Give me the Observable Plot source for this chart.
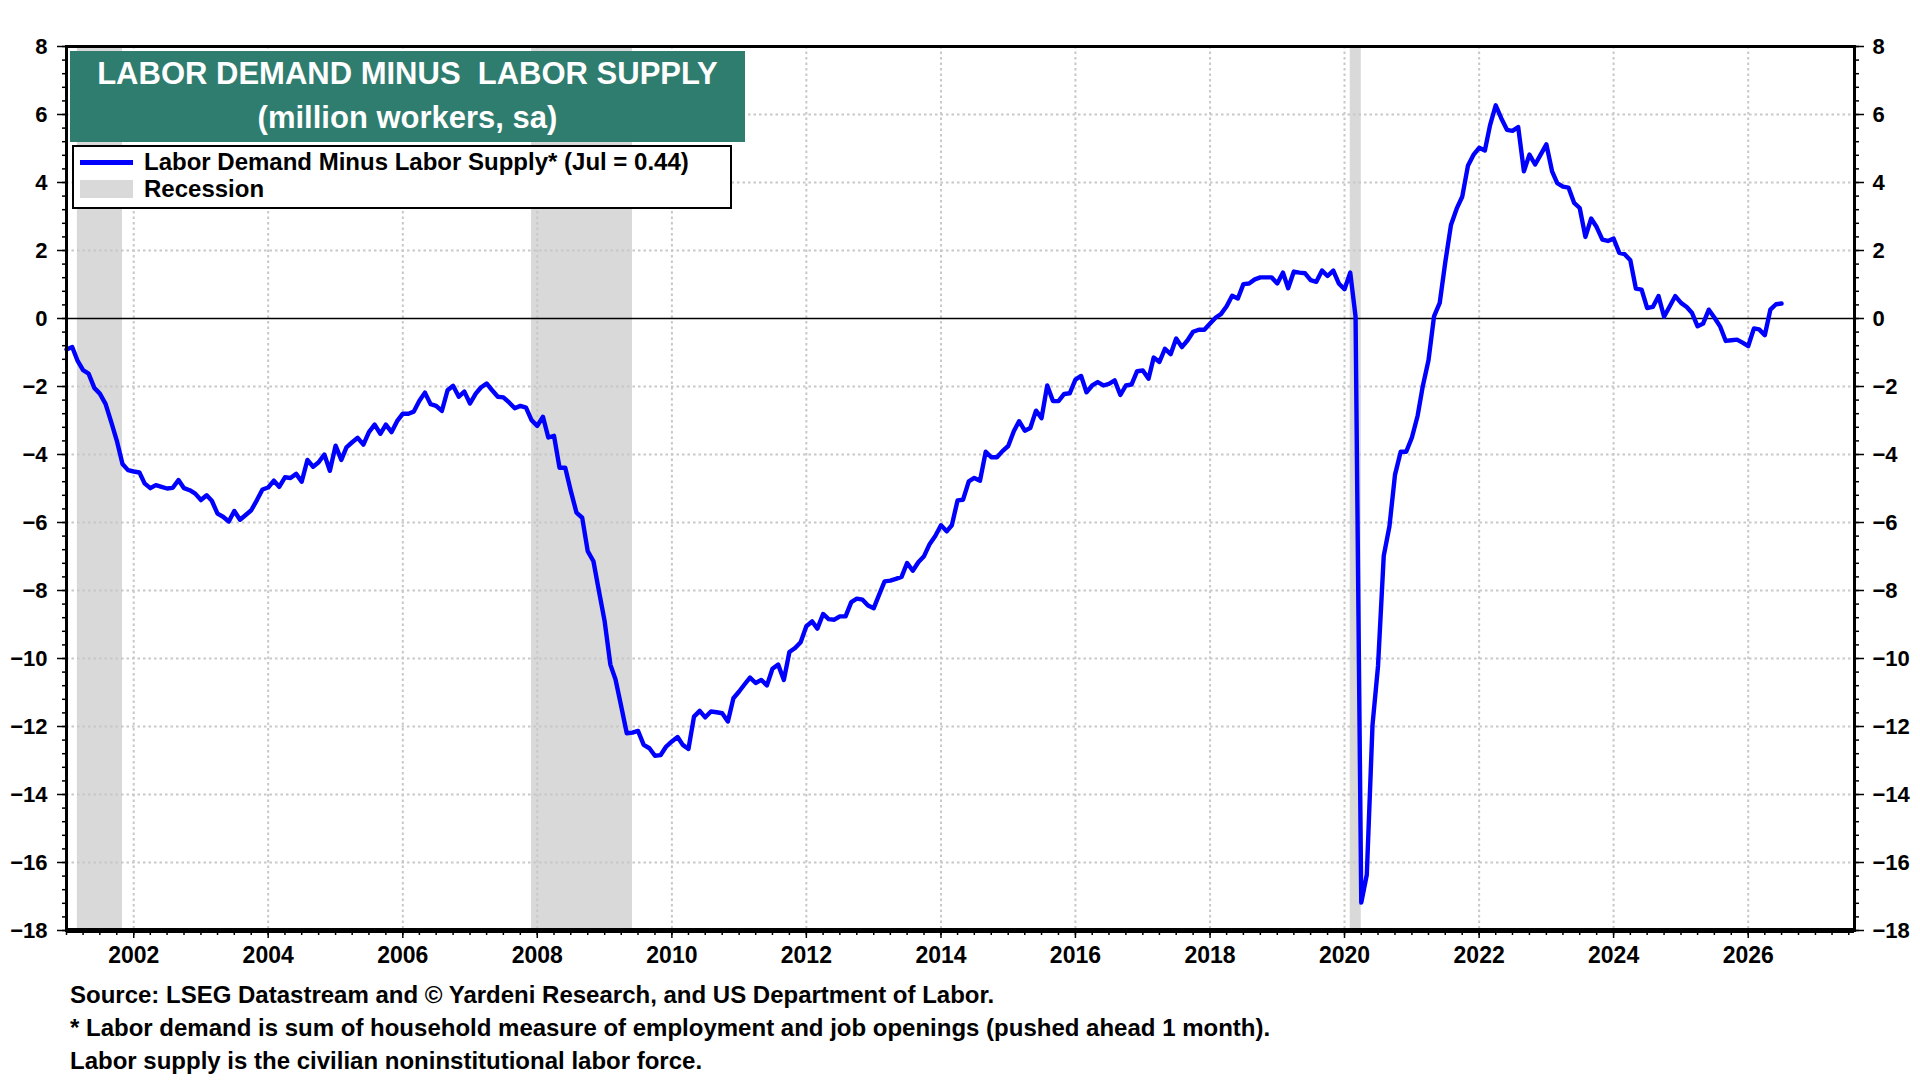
<!DOCTYPE html>
<html>
<head>
<meta charset="utf-8">
<script src="https://cdn.jsdelivr.net/npm/d3@7"></script>
<script src="https://cdn.jsdelivr.net/npm/@observablehq/plot@0.6"></script>
<style>
  body { margin: 0; background: #fff; }
  #wrap { position: relative; width: 1920px; height: 1080px; font-family: "Liberation Sans", Arial, sans-serif; font-weight: bold; }
  .abs { position: absolute; white-space: pre; }
</style>
</head>
<body>
<div id="wrap"></div>
<script>
// Monthly values starting Jan 2001 (million workers)
const startDate = "2001-01-01";
const values = [
  -0.91,-0.84,-1.23,-1.52,-1.62,-2.04,-2.21,-2.51,-3.05,-3.59,-4.28,-4.46,
  -4.50,-4.53,-4.85,-4.99,-4.90,-4.95,-5.00,-4.98,-4.75,-4.99,-5.05,-5.15,
  -5.34,-5.20,-5.36,-5.74,-5.83,-5.97,-5.66,-5.92,-5.78,-5.64,-5.34,-5.03,
  -4.97,-4.77,-4.95,-4.67,-4.69,-4.57,-4.80,-4.16,-4.36,-4.23,-4.00,-4.48,
  -3.74,-4.16,-3.79,-3.64,-3.51,-3.71,-3.34,-3.12,-3.39,-3.12,-3.34,-3.02,
  -2.80,-2.80,-2.74,-2.42,-2.18,-2.52,-2.57,-2.72,-2.11,-1.98,-2.30,-2.15,
  -2.50,-2.21,-2.03,-1.91,-2.11,-2.30,-2.32,-2.47,-2.64,-2.57,-2.62,-2.99,
  -3.16,-2.89,-3.50,-3.45,-4.39,-4.39,-5.07,-5.71,-5.86,-6.84,-7.14,-8.02,
  -8.91,-10.18,-10.62,-11.41,-12.20,-12.18,-12.13,-12.54,-12.64,-12.86,-12.84,-12.59,
  -12.44,-12.31,-12.54,-12.66,-11.71,-11.54,-11.73,-11.56,-11.58,-11.61,-11.85,-11.17,
  -10.97,-10.75,-10.56,-10.72,-10.63,-10.79,-10.30,-10.18,-10.63,-9.81,-9.69,-9.52,
  -9.05,-8.91,-9.12,-8.69,-8.84,-8.86,-8.76,-8.76,-8.34,-8.24,-8.27,-8.44,
  -8.52,-8.10,-7.73,-7.71,-7.66,-7.60,-7.19,-7.42,-7.16,-6.99,-6.63,-6.40,
  -6.08,-6.26,-6.08,-5.35,-5.33,-4.79,-4.69,-4.77,-3.92,-4.08,-4.08,-3.90,
  -3.75,-3.31,-3.02,-3.30,-3.22,-2.71,-2.93,-1.97,-2.43,-2.43,-2.22,-2.20,
  -1.80,-1.69,-2.17,-1.97,-1.87,-1.97,-1.92,-1.82,-2.25,-1.97,-1.94,-1.55,
  -1.53,-1.77,-1.15,-1.28,-0.89,-1.05,-0.59,-0.84,-0.64,-0.39,-0.33,-0.33,
  -0.15,0.03,0.13,0.36,0.67,0.59,1.01,1.03,1.15,1.21,1.21,1.21,
  1.03,1.35,0.89,1.38,1.35,1.33,1.13,1.08,1.41,1.25,1.41,1.03,
  0.86,1.35,0.06,-17.18,-16.36,-11.96,-10.22,-6.98,-6.11,-4.60,-3.92,-3.92,
  -3.50,-2.86,-1.99,-1.23,0.06,0.46,1.65,2.75,3.23,3.58,4.49,4.81,
  5.02,4.94,5.68,6.27,5.89,5.55,5.52,5.63,4.33,4.82,4.53,4.82,
  5.12,4.33,3.98,3.88,3.85,3.40,3.25,2.40,2.94,2.69,2.32,2.28,
  2.35,1.93,1.89,1.71,0.88,0.85,0.31,0.34,0.66,0.05,0.36,0.66,
  0.46,0.34,0.17,-0.23,-0.15,0.26,0.03,-0.23,-0.66,-0.64,-0.62,-0.71,
  -0.81,-0.29,-0.32,-0.49,0.26,0.42,0.44
];
const recessionStarts = ["2001-03-01", "2007-12-01", "2020-02-01"];
const recessionEnds   = ["2001-11-01", "2009-06-01", "2020-04-01"];
const xDomain = ["2001-01-01", "2027-08-01"];
const yDomain = [-18, 8];
const yTickValues = [-18,-16,-14,-12,-10,-8,-6,-4,-2,0,2,4,6,8];
const xTickYears = [2002,2004,2006,2008,2010,2012,2014,2016,2018,2020,2022,2024,2026];

const titleLine1 = "LABOR DEMAND MINUS  LABOR SUPPLY";
const titleLine2 = "(million workers, sa)";
const legendSeries = "Labor Demand Minus Labor Supply* (Jul = 0.44)";
const legendRecession = "Recession";
const notes = [
  "Source: LSEG Datastream and \u00a9 Yardeni Research, and US Department of Labor.",
  "* Labor demand is sum of household measure of employment and job openings (pushed ahead 1 month).",
  "Labor supply is the civilian noninstitutional labor force."
];

const start = new Date(startDate);
const data = values.map((v, i) => ({date: d3.utcMonth.offset(start, i), value: v}));
const recessions = recessionStarts.map((s, i) => ({start: new Date(s), end: new Date(recessionEnds[i])}));
const xTicks = xTickYears.map(y => new Date(Date.UTC(y, 0, 1)));
const xMinor = d3.utcMonth.every(3).range(new Date(xDomain[0]), new Date(xDomain[1]));
const yMinor = d3.range(0, 66).map(i => +(yDomain[0] + i * 0.4).toFixed(2));

const gridStyle = {stroke: "#c8c8c8", strokeOpacity: 1, strokeWidth: 2, strokeDasharray: "2.5,3"};

const chart = Plot.plot({
  width: 1920,
  height: 975,
  marginLeft: 66,
  marginRight: 66,
  marginTop: 46,
  marginBottom: 45,
  style: {fontFamily: "'Liberation Sans', Arial, sans-serif", fontSize: "22px", fontWeight: "bold", color: "#000", background: "transparent"},
  x: {type: "utc", domain: xDomain.map(d => new Date(d)), axis: null},
  y: {domain: yDomain, axis: null},
  marks: [
    Plot.rect(recessions, {x1: "start", x2: "end", y1: yDomain[0], y2: yDomain[1], fill: "#d9d9d9"}),
    Plot.gridY(yTickValues.filter(d => d !== 0 && d !== -18 && d !== 8), gridStyle),
    Plot.gridX(xTicks, gridStyle),
    Plot.ruleY([0], {stroke: "#000", strokeWidth: 1.3}),
    Plot.lineY(data, {x: "date", y: "value", stroke: "#0000ff", strokeWidth: 4.4}),
    Plot.frame({stroke: "#000", strokeWidth: 3}),
    Plot.ruleY([yDomain[0]], {stroke: "#000", strokeWidth: 5}),
    Plot.axisY(yMinor, {anchor: "left", tickSize: 4, tickFormat: () => "", label: null, strokeWidth: 1.5}),
    Plot.axisY(yTickValues, {anchor: "left", tickSize: 9, tickPadding: 10, label: null, strokeWidth: 1.5}),
    Plot.axisY(yMinor, {anchor: "right", tickSize: 4, tickFormat: () => "", label: null, strokeWidth: 1.5}),
    Plot.axisY(yTickValues, {anchor: "right", tickSize: 9, tickPadding: 9, label: null, strokeWidth: 1.5}),
    Plot.axisX(xMinor, {anchor: "bottom", tickSize: 5, tickFormat: () => "", label: null, strokeWidth: 1.5}),
    Plot.axisX(xTicks, {anchor: "bottom", tickSize: 8, tickPadding: 8, fontSize: 23, tickFormat: d3.utcFormat("%Y"), label: null, strokeWidth: 1.5})
  ]
});

const wrap = document.getElementById("wrap");
wrap.appendChild(chart);
chart.style.position = "absolute";
chart.style.left = "0px";
chart.style.top = "0px";

function addDiv(text, css) {
  const d = document.createElement("div");
  d.className = "abs";
  d.textContent = text;
  Object.assign(d.style, css);
  wrap.appendChild(d);
  return d;
}

// Title box
const tb = document.createElement("div");
Object.assign(tb.style, {position: "absolute", left: "70px", top: "51px", width: "675px", height: "91px", background: "#2f7d6f"});
wrap.appendChild(tb);
addDiv(titleLine1, {left: "70px", top: "52px", width: "675px", textAlign: "center", color: "#fff", fontSize: "31px", lineHeight: "44px"});
addDiv(titleLine2, {left: "70px", top: "96px", width: "675px", textAlign: "center", color: "#fff", fontSize: "31px", lineHeight: "44px"});

// Legend box
const lb = document.createElement("div");
Object.assign(lb.style, {position: "absolute", left: "72px", top: "145px", width: "656px", height: "60px", background: "#fff", border: "2px solid #000"});
wrap.appendChild(lb);
const sw1 = document.createElement("div");
Object.assign(sw1.style, {position: "absolute", left: "80px", top: "160px", width: "53px", height: "5px", background: "#0000ff"});
wrap.appendChild(sw1);
const sw2 = document.createElement("div");
Object.assign(sw2.style, {position: "absolute", left: "80px", top: "180px", width: "53px", height: "18px", background: "#d9d9d9"});
wrap.appendChild(sw2);
addDiv(legendSeries, {left: "144px", top: "149px", color: "#000", fontSize: "24px", lineHeight: "26px"});
addDiv(legendRecession, {left: "144px", top: "176px", color: "#000", fontSize: "24px", lineHeight: "26px"});

// Footnotes
const noteCenters = [995, 1028, 1061];
notes.forEach((t, i) => addDiv(t, {left: "70px", top: (noteCenters[i] - 15) + "px", color: "#000", fontSize: "24px", lineHeight: "30px"}));
</script>
</body>
</html>
